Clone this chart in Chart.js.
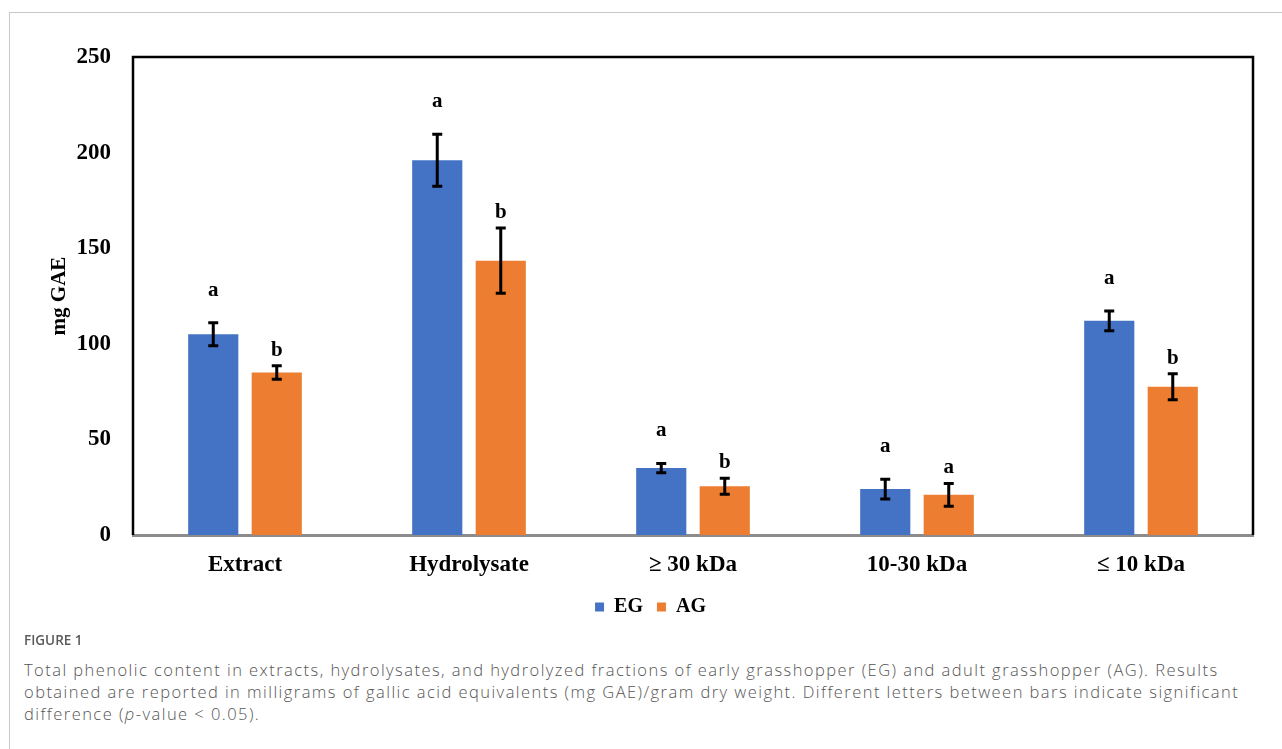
<!DOCTYPE html>
<html>
<head>
<meta charset="utf-8">
<script src="https://cdn.jsdelivr.net/npm/chart.js@4.4.1/dist/chart.umd.min.js"></script>
<style>
  body { margin: 0; background: #fff; width: 1282px; height: 749px; overflow: hidden; position: relative; }
  #frame { position: absolute; left: 9px; top: 12px; width: 1300px; height: 800px; border: 1.5px solid #c9c9c9; box-sizing: border-box; }
  #wrap { position: absolute; left: 0; top: 0; width: 1282px; height: 635px; }
  #fig { position: absolute; left: 24px; top: 631px; font-family: "Open Sans", sans-serif; font-weight: 600; font-size: 13.5px; color: #5a5a5a; }
  #cap { position: absolute; left: 24px; top: 659px; width: 1255px; font-family: "Open Sans", sans-serif; font-weight: 300; font-size: 16.5px; letter-spacing: 1.45px; line-height: 22px; color: #555; }
</style>
</head>
<body>
<div id="frame"></div>
<div id="wrap"><canvas id="chart"></canvas></div>
<div id="fig">FIGURE 1</div>
<div id="cap">Total phenolic content in extracts, hydrolysates, and hydrolyzed fractions of early grasshopper (EG) and adult grasshopper (AG). Results obtained are reported in milligrams of gallic acid equivalents (mg GAE)/gram dry weight. Different letters between bars indicate significant difference (<i>p</i>-value &lt; 0.05).</div>
<script>
const categories = ['Extract', 'Hydrolysate', '\u2265 30 kDa', '10-30 kDa', '\u2264 10 kDa']
const valuesEG = [105, 196, 35, 24, 112]
const valuesAG = [85, 143.5, 25.5, 21, 77.5]
const errEG = [6, 13.6, 2.4, 5.2, 5.2]
const errAG = [3.5, 17, 4.2, 6, 6.8]
const lettersEG = ['a', 'a', 'a', 'a', 'a']
const lettersAG = ['b', 'b', 'b', 'a', 'b']
const yTicks = [0, 50, 100, 150, 200, 250]

const serif = '"Liberation Serif", "Times New Roman", serif'

// error bars, significance letters and the black frame around the plot
const extras = {
    id: 'extras',
    afterLayout(chart) {
        // legend sits a little right of the canvas centre in the original
        chart.legend.left += 24
        chart.legend.right += 24
    },
    afterDatasetsDraw(chart) {
        const ctx = chart.ctx
        const y = chart.scales.y
        const errs = [errEG, errAG]
        const letters = [lettersEG, lettersAG]
        const offsets = [27, 10]
        ctx.save()
        chart.data.datasets.forEach((ds, i) => {
            chart.getDatasetMeta(i).data.forEach((bar, j) => {
                const top = y.getPixelForValue(ds.data[j] + errs[i][j])
                const bot = y.getPixelForValue(ds.data[j] - errs[i][j])
                ctx.strokeStyle = '#000'
                ctx.lineWidth = 3
                ctx.beginPath()
                ctx.moveTo(bar.x, top); ctx.lineTo(bar.x, bot)
                ctx.moveTo(bar.x - 5, top); ctx.lineTo(bar.x + 5, top)
                ctx.moveTo(bar.x - 5, bot); ctx.lineTo(bar.x + 5, bot)
                ctx.stroke()
                ctx.fillStyle = '#000'
                ctx.font = 'bold 21px ' + serif
                ctx.textAlign = 'center'
                ctx.textBaseline = 'alphabetic'
                ctx.fillText(letters[i][j], bar.x, top - offsets[i])
            })
        })
        const a = chart.chartArea
        ctx.strokeStyle = '#000'
        ctx.lineWidth = 2.5
        ctx.beginPath()
        ctx.moveTo(a.left, a.bottom); ctx.lineTo(a.left, a.top)
        ctx.lineTo(a.right, a.top); ctx.lineTo(a.right, a.bottom)
        ctx.stroke()
        ctx.restore()
    }
}

new Chart(document.getElementById('chart'), {
    type: 'bar',
    data: {
        labels: categories,
        datasets: [
            { label: 'EG', data: valuesEG, backgroundColor: '#4472C4' },
            { label: 'AG', data: valuesAG, backgroundColor: '#ED7D31' }
        ]
    },
    options: {
        responsive: true,
        maintainAspectRatio: false,
        animation: false,
        categoryPercentage: 0.567,
        barPercentage: 0.79,
        layout: { padding: { top: 57, right: 29, bottom: 8, left: 0 } },
        scales: {
            x: {
                grid: { display: false, drawTicks: false },
                border: { color: '#8c8c8c', width: 3 },
                ticks: { color: '#000', padding: 16, font: { family: serif, size: 23, weight: 'bold' } },
                afterFit: s => { s.height = 48 }
            },
            y: {
                min: 0,
                max: 250,
                afterBuildTicks: s => { s.ticks = yTicks.map(v => ({ value: v })) },
                grid: { display: false, drawTicks: false },
                border: { display: false },
                ticks: { color: '#000', padding: 22, font: { family: serif, size: 23, weight: 'bold' } },
                title: { display: true, text: 'mg GAE', color: '#000', padding: { top: 47, bottom: 0 }, font: { family: serif, size: 21, weight: 'bold' } },
                afterFit: s => { s.width = 133 }
            }
        },
        plugins: {
            legend: {
                position: 'bottom',
                labels: { boxWidth: 9, boxHeight: 9, padding: 14, color: '#000', font: { family: serif, size: 20, weight: 'bold' } }
            },
            tooltip: { enabled: false }
        }
    },
    plugins: [extras]
});
</script>
</body>
</html>
